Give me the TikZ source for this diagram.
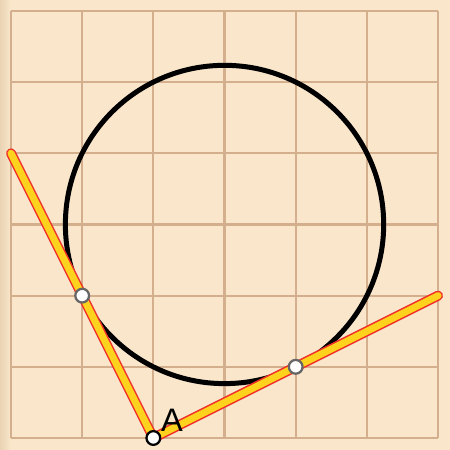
\documentclass[tikz,border=0pt]{standalone}
\usepackage{fontspec}
\setsansfont{Liberation Sans}
\definecolor{bg}{HTML}{FAE6CA}
\definecolor{bgdark}{HTML}{E9D3B4}
\definecolor{gridc}{HTML}{D4AF8E}
\definecolor{segred}{HTML}{F0302A}
\definecolor{segyel}{HTML}{FFD21E}
\begin{document}
\begin{tikzpicture}[
  gridline/.style={draw=gridc, line width=0.9pt},
  segouter/.style={draw=segred, line width=4.0pt, line cap=round},
  seginner/.style={draw=segyel, line width=2.8pt, line cap=round},
  circ/.style={draw=black, line width=2.0pt},
  pt/.style={circle, fill=white, draw=black!60, line width=0.9pt, minimum size=5.5pt, inner sep=0pt},
  ptA/.style={circle, fill=white, draw=black, line width=0.9pt, minimum size=5.5pt, inner sep=0pt},
  lbl/.style={font=\sffamily\fontsize{13}{13}\selectfont, text=black}
]
\useasboundingbox (-0.1546,-0.1686) rectangle (6.168,6.154);
\fill[bg] (-0.1546,-0.1686) rectangle (6.168,6.154);
\shade[left color=bgdark, right color=bg] (-0.1546,-0.1686) rectangle (0.0,6.154);
\draw[gridline] (0,0) grid (6,6);
\coordinate (O) at (3,3);
\draw[circ] (O) circle ({sqrt(5)});
\coordinate (A) at (2,0);
\coordinate (L) at (0,4);
\coordinate (R) at (6,2);
\draw[segouter] (L) -- (A) -- (R);
\draw[seginner] (L) -- (A) -- (R);
\node[pt] (T1) at (1,2) {};
\node[pt] (T2) at (4,1) {};
\node[ptA] (Ap) at (A) {};
\node[lbl] (Alab) at (2.26,0.25) {A};
\end{tikzpicture}
\end{document}
